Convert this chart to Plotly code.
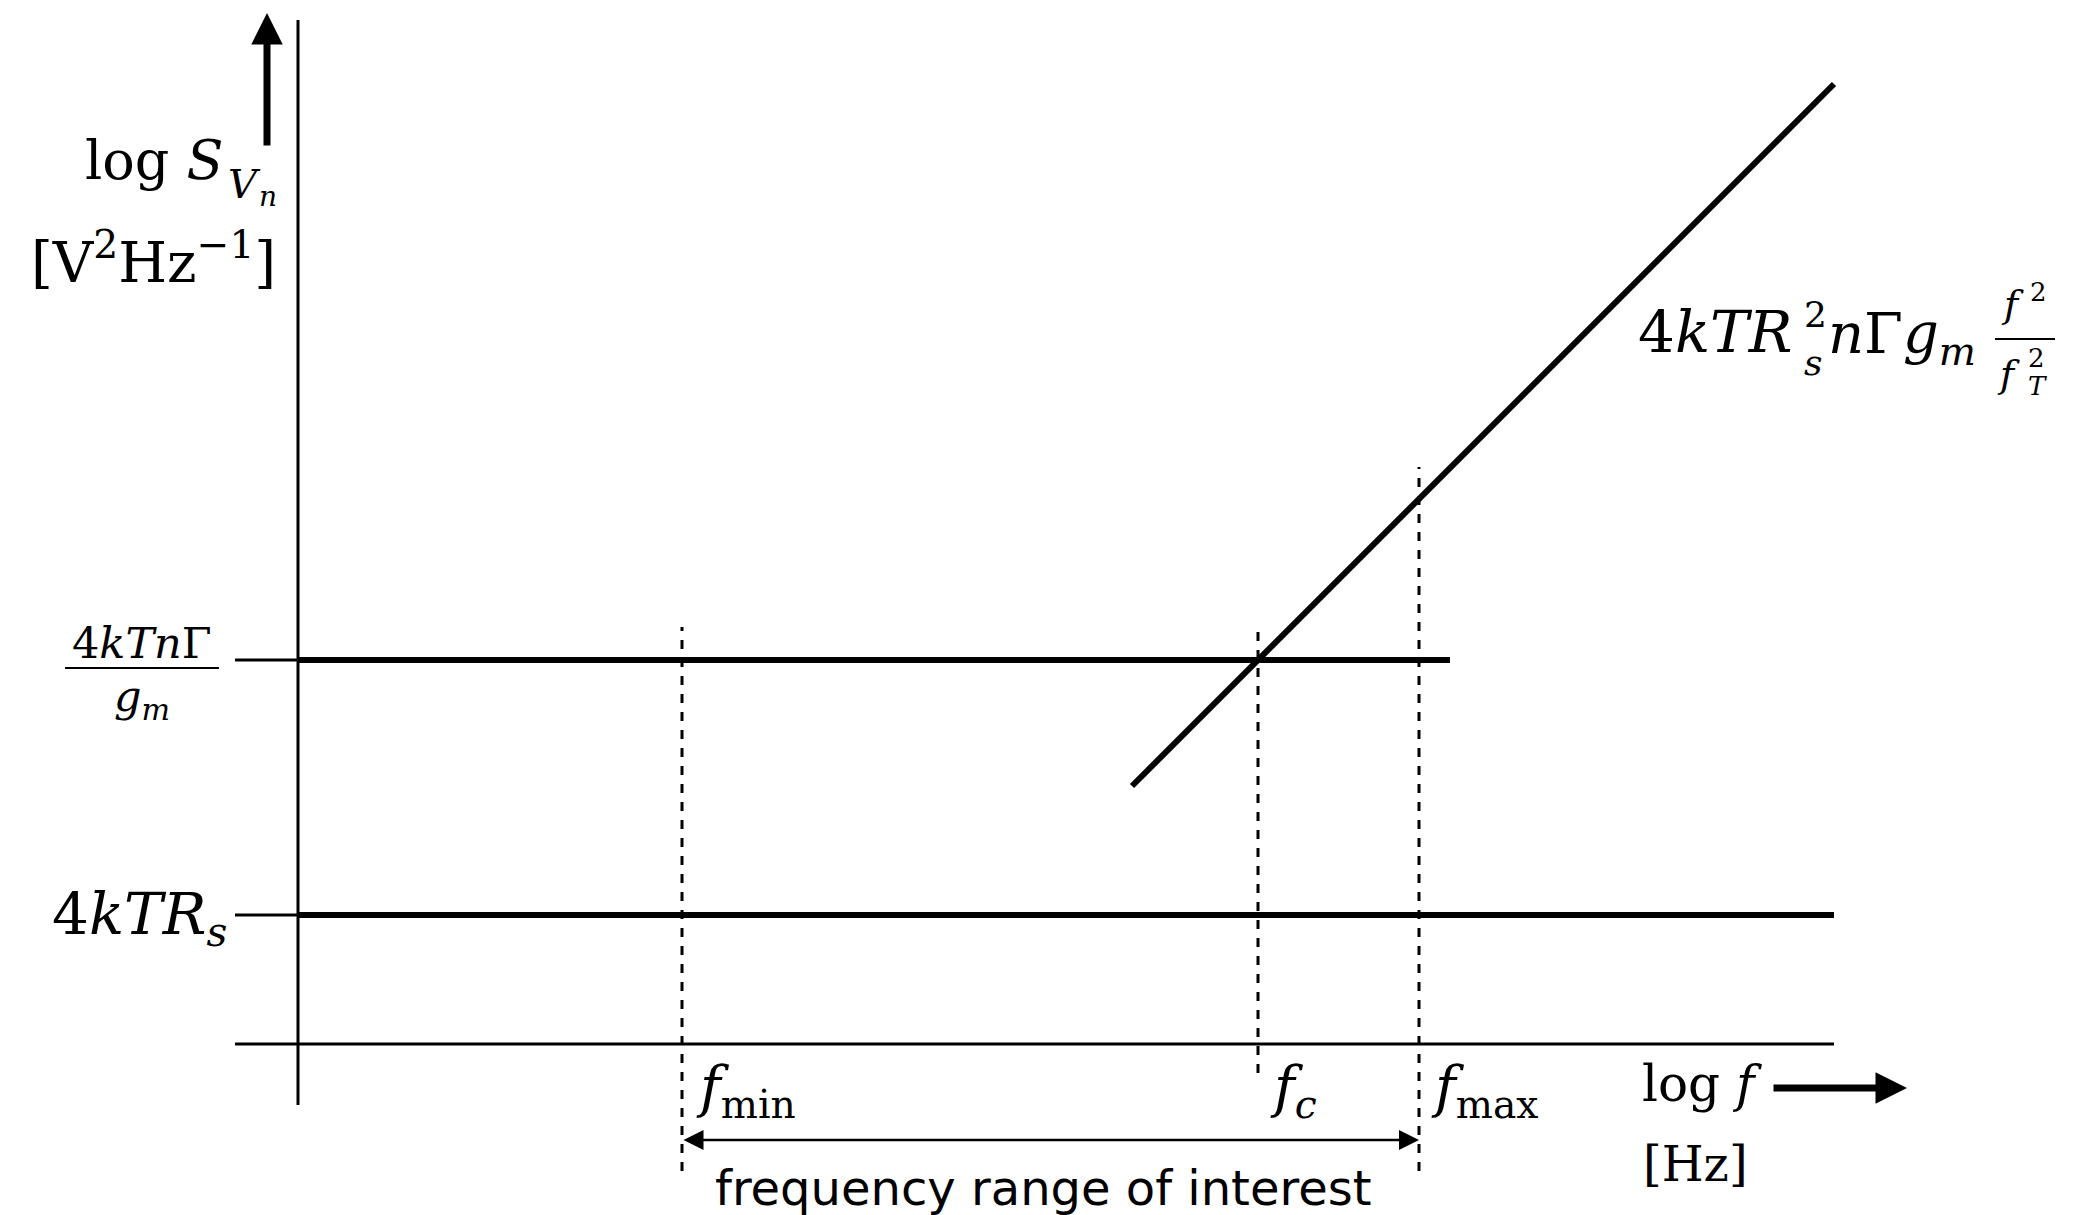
import plotly.graph_objects as go

W, H = 2082, 1215

# ---- schematic data (arbitrary log units) ----
f_min, f_c, f_max = 3.84, 9.60, 11.21          # frequency markers (log f)
level_channel = 3.84                           # 4kTnΓ/g_m
level_rs = 1.29                                # 4kTR_s
channel_x = [0.0, 11.52]
channel_y = [level_channel, level_channel]
rs_x = [0.0, 15.36]
rs_y = [level_rs, level_rs]
induced_x = [8.34, 15.36]                      # 4kTR_s^2 nΓ g_m f^2/f_T^2 asymptote
induced_y = [2.58, 9.60]
yaxis_x, yaxis_y = [0.0, 0.0], [-0.61, 10.24]
xaxis_x, xaxis_y = [-0.63, 15.36], [0.0, 0.0]
tick_x = [-0.63, 0.0]
dash_fmin_y = [-1.27, 4.17]
dash_fc_y = [-0.29, 4.17]
dash_fmax_y = [-1.27, 5.77]
range_arrow_y = -0.96

X_RANGE = [-2.98, 17.84]
Y_RANGE = [-1.71, 10.44]

fig = go.Figure()

def line(x, y, width, dash=None):
    fig.add_trace(go.Scatter(x=x, y=y, mode="lines",
                             line=dict(color="black", width=width, dash=dash),
                             hoverinfo="skip", showlegend=False))

# axes
line(yaxis_x, yaxis_y, 3)
line(xaxis_x, xaxis_y, 3)
line(tick_x, channel_y, 3)
line(tick_x, rs_y, 3)
# dashed markers
DASH = "9px,9px"
line([f_min, f_min], dash_fmin_y, 3, DASH)
line([f_c, f_c], dash_fc_y, 3, DASH)
line([f_max, f_max], dash_fmax_y, 3, DASH)
# noise curves
line(channel_x, channel_y, 6)
line(rs_x, rs_y, 6)
line(induced_x, induced_y, 6)

SERIF = "DejaVu Serif"
SANS = "DejaVu Sans"

def P(px, py):
    return px / W, 1 - py / H

anns = []

def txt(text, px, py, size, xanchor="center", family=SERIF):
    x, y = P(px, py)
    anns.append(dict(text=text, x=x, y=y, xref="paper", yref="paper",
                     xanchor=xanchor, yanchor="middle", showarrow=False,
                     font=dict(family=family, size=size, color="black")))

MATH = 56
# y-axis label
txt("log <i>S</i>", 226, 160, 54, "right")
txt("<i>V</i>", 244, 184, 40, "center")
txt("<i>n</i>", 268, 196, 28, "center")
txt("[V<sup>2</sup>Hz<sup>−1</sup>]", 153, 258, 56, "center")

# fraction 4kTnΓ / g_m
txt("4<i>kTn</i>Γ", 142, 643, 43, "center")
txt("<i>g</i><sub><i>m</i></sub>", 142, 699, 43, "center")

# 4kTR_s
txt("4<i>kTR</i><sub><i>s</i></sub>", 229, 918, 58, "right")

# right formula
txt("4<i>kTR</i>", 1636, 332, 58, "left")
txt("2", 1815, 314, 36, "center")
txt("<i>s</i>", 1813, 362, 36, "center")
txt("<i>n</i>Γ<i>g</i><sub><i>m</i></sub>", 1826, 338, MATH, "left")
txt("<i>f</i>", 2012, 304, 38, "center")
txt("2", 2038, 292, 26, "center")
txt("<i>f</i>", 2008, 374, 38, "center")
txt("2", 2036, 358, 26, "center")
txt("<i>T</i>", 2037, 386, 26, "center")

# frequency labels
txt("<i>f</i><sub>min</sub>", 694, 1090, MATH, "left")
txt("<i>f</i><sub><i>c</i></sub>", 1268, 1090, MATH, "left")
txt("<i>f</i><sub>max</sub>", 1429, 1090, MATH, "left")
txt("log <i>f</i>", 1764, 1084, 50, "right")
txt("[Hz]", 1695, 1164, 48, "center")
txt("frequency range of interest", 1043, 1188, 48, "center", SANS)

# arrows
ax_, ay_ = P(267, 13)
anns.append(dict(x=ax_, y=ay_, xref="paper", yref="paper", ax=0, ay=134,
                 showarrow=True, arrowhead=2, arrowwidth=7, arrowsize=0.9,
                 arrowcolor="black", standoff=0, text=""))
bx_, by_ = P(1907, 1088)
anns.append(dict(x=bx_, y=by_, xref="paper", yref="paper", ax=-135, ay=0,
                 showarrow=True, arrowhead=2, arrowwidth=7, arrowsize=0.9,
                 arrowcolor="black", standoff=0, text=""))
anns.append(dict(x=f_max, y=range_arrow_y, ax=f_min, ay=range_arrow_y,
                 xref="x", yref="y", axref="x", ayref="y",
                 showarrow=True, arrowhead=2, arrowside="end+start",
                 arrowwidth=2.5, arrowsize=1.6, arrowcolor="black",
                 standoff=0, startstandoff=0, text=""))

shapes = []
# fraction bars
for x0, x1, yy in [(65, 219, 668), (1995, 2055, 339)]:
    shapes.append(dict(type="line", xref="paper", yref="paper",
                       x0=x0 / W, x1=x1 / W, y0=1 - yy / H, y1=1 - yy / H,
                       line=dict(color="black", width=2)))

fig.update_layout(
    width=W, height=H, autosize=False,
    margin=dict(l=0, r=0, t=0, b=0),
    paper_bgcolor="white", plot_bgcolor="white",
    xaxis=dict(range=X_RANGE, visible=False, fixedrange=True),
    yaxis=dict(range=Y_RANGE, visible=False, fixedrange=True),
    annotations=anns, shapes=shapes,
)

fig.write_html("out.html", config={"displayModeBar": False},
               post_script="document.body.style.margin='0';document.body.style.overflow='hidden';")
